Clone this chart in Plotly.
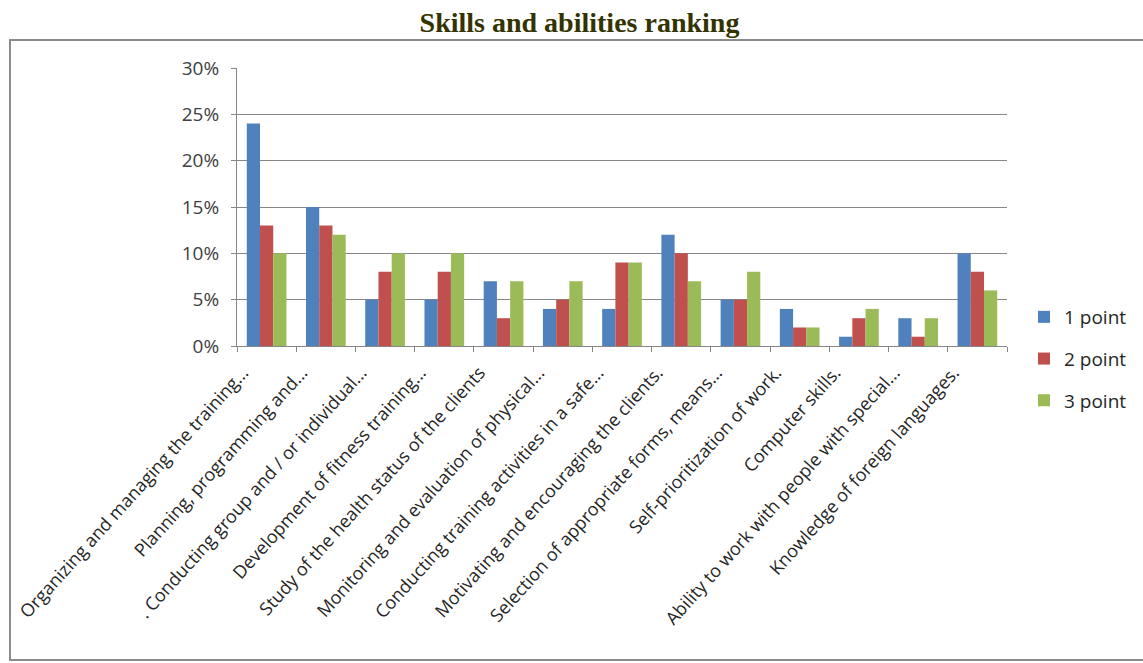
import plotly.graph_objects as go

categories = [
    "Organizing and managing the training...",
    "Planning, programming and...",
    ". Conducting group and / or individual...",
    "Development of fitness training...",
    "Study of the health status of the clients",
    "Monitoring and evaluation of physical...",
    "Conducting training activities in a safe...",
    "Motivating and encouraging the clients.",
    "Selection of appropriate forms, means...",
    "Self-prioritization of work.",
    "Computer skills.",
    "Ability to work with people with special...",
    "Knowledge of foreign languages.",
]
point1 = [24, 15, 5, 5, 7, 4, 4, 12, 5, 4, 1, 3, 10]
point2 = [13, 13, 8, 8, 3, 5, 9, 10, 5, 2, 3, 1, 8]
point3 = [10, 12, 10, 10, 7, 7, 9, 7, 8, 2, 4, 3, 6]
series_names = ["1 point", "2 point", "3 point"]
colors = ["#4F81BD", "#C0504D", "#9BBB59"]
yticks = [0, 5, 10, 15, 20, 25, 30]

fig = go.Figure()
for i, (name, vals) in enumerate(zip(series_names, [point1, point2, point3])):
    fig.add_trace(go.Bar(
        x=categories, y=[v / 100 for v in vals], name=name,
        marker=dict(color=colors[i], line=dict(width=0)),
        legendgroup=name,
    ))

L, R, T, B = 237, 136, 68, 317
W, H = 1143, 663
pw, ph = W - L - R, H - T - B

def px(x):
    return (x - L) / pw

def py(y):
    return (H - B - y) / ph

fig.add_shape(type="rect", xref="paper", yref="paper",
              x0=px(10), x1=px(1160), y0=py(660), y1=py(40),
              line=dict(color="#8c8c8c", width=2), layer="below")

fig.update_layout(
    width=W, height=H,
    margin=dict(l=L, r=R, t=T, b=B, autoexpand=False),
    paper_bgcolor="white", plot_bgcolor="white",
    barmode="group", bargap=0.33, bargroupgap=0,
    title=dict(text="<b>Skills and abilities ranking</b>", x=0.507, xanchor="center",
               y=1 - 22 / H, yanchor="middle",
               font=dict(family="Liberation Serif", size=28, color="#333300")),
    font=dict(family="Open Sans", size=18, color="#262626"),
    legend=dict(x=px(1024), xanchor="left", y=py(298), yanchor="top",
                font=dict(size=19, color="#262626"), tracegroupgap=14,
                itemwidth=30, bgcolor="rgba(0,0,0,0)"),
    showlegend=True,
)
fig.update_xaxes(
    tickangle=-48, showgrid=False, showline=True, linecolor="#868686", linewidth=1,
    ticks="outside", tickson="boundaries", ticklen=5, tickcolor="#868686",
    tickfont=dict(size=18, color="#262626"), range=[-0.5, 12.5],
    automargin=False, ticklabelshift=-24, ticklabelstandoff=8,
)
fig.update_yaxes(
    range=[0, 0.30], tickvals=[v / 100 for v in yticks],
    ticktext=[f"{v}%" for v in yticks],
    showgrid=True, gridcolor="#868686", gridwidth=1,
    showline=True, linecolor="#868686", linewidth=1,
    ticks="outside", ticklen=5, tickcolor="#868686",
    tickfont=dict(size=19, color="#404040"), zeroline=False,
    automargin=False, ticklabelstandoff=8,
)

fig.write_html("out.html")
